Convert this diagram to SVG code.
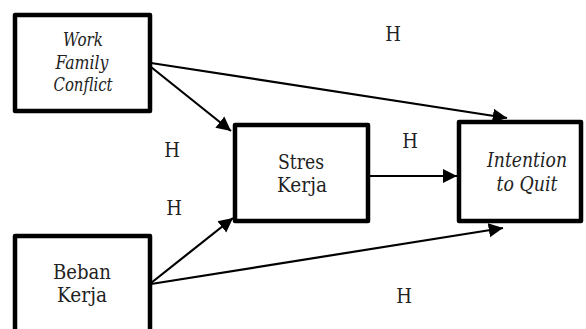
<svg xmlns="http://www.w3.org/2000/svg" width="586" height="329" viewBox="0 0 586 329">
<style>
.box{fill:#fff;stroke:#000;stroke-width:4.5;stroke-linejoin:round}
.t{font-family:"DejaVu Serif Condensed","DejaVu Serif",serif;font-stretch:condensed;font-size:20px;fill:#222;text-anchor:middle}
.i{font-style:italic}
.s{font-size:18px}
.c{stroke:#000;stroke-width:2.2;fill:none;marker-end:url(#ah)}
</style>
<defs>
<marker id="ah" viewBox="0 0 10 10" refX="10" refY="5" markerWidth="6.5" markerHeight="7" markerUnits="strokeWidth" orient="auto">
<path d="M0,0 L10,5 L0,10 z" fill="#000"/>
</marker>
</defs>
<g id="connectors">
<line class="c" x1="151" y1="63" x2="507" y2="118"/>
<line class="c" x1="151" y1="67" x2="231" y2="131"/>
<line class="c" x1="369" y1="176" x2="457" y2="176"/>
<line class="c" x1="151" y1="283" x2="233" y2="218"/>
<line class="c" x1="151" y1="284" x2="503" y2="228"/>
</g>
<g id="wfc">
<rect class="box" x="15" y="15" width="135" height="96"/>
<text class="t i s" x="83" y="46" textLength="40" lengthAdjust="spacingAndGlyphs">Work</text>
<text class="t i s" x="82" y="68.5" textLength="53" lengthAdjust="spacingAndGlyphs">Family</text>
<text class="t i s" x="83" y="91" textLength="59" lengthAdjust="spacingAndGlyphs">Conflict</text>
</g>
<g id="stres">
<rect class="box" x="235" y="125" width="133" height="96"/>
<text class="t" x="301" y="169" textLength="46" lengthAdjust="spacingAndGlyphs">Stres</text>
<text class="t" x="302" y="192" textLength="50" lengthAdjust="spacingAndGlyphs">Kerja</text>
</g>
<g id="itq">
<rect class="box" x="459" y="122" width="122" height="99"/>
<text class="t i" x="527" y="167" textLength="80" lengthAdjust="spacingAndGlyphs">Intention</text>
<text class="t i" x="527" y="191" textLength="61" lengthAdjust="spacingAndGlyphs">to Quit</text>
</g>
<g id="beban">
<rect class="box" x="15" y="236" width="135" height="110"/>
<text class="t" x="82" y="279" textLength="58" lengthAdjust="spacingAndGlyphs">Beban</text>
<text class="t" x="82" y="302" textLength="50" lengthAdjust="spacingAndGlyphs">Kerja</text>
</g>
<g id="labels">
<text class="t" x="393" y="41">H</text>
<text class="t" x="172" y="157">H</text>
<text class="t" x="174" y="215">H</text>
<text class="t" x="410" y="148">H</text>
<text class="t" x="404" y="303">H</text>
</g>
</svg>
